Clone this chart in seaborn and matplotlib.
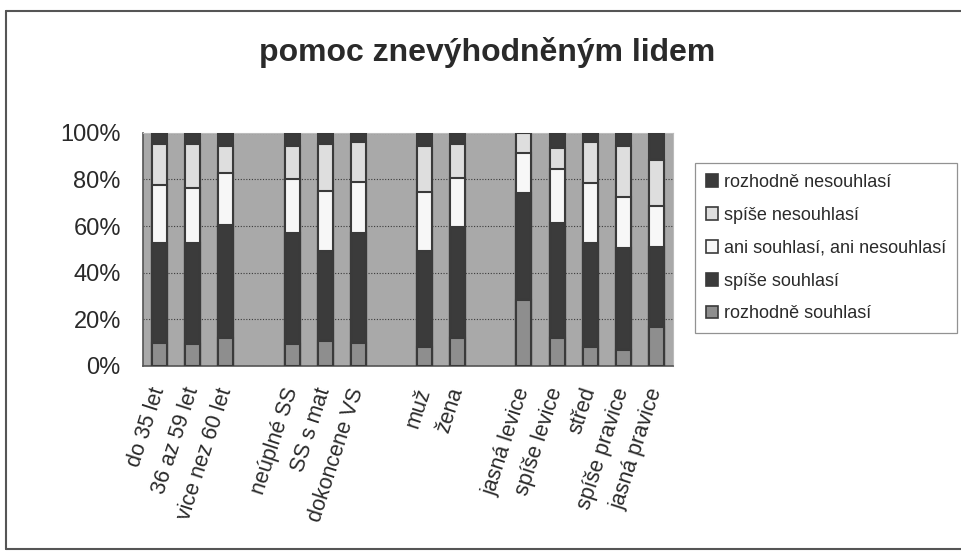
import numpy as np
import pandas as pd
import matplotlib
matplotlib.use("Agg")
import matplotlib.pyplot as plt
from matplotlib.patches import Patch
from matplotlib.lines import Line2D
import seaborn as sns

# categories (spacer slots are blank strings so the groups stand apart)
groups = [
    ["do 35 let", "36 az 59 let", "vice nez 60 let"],
    ["neúplné SS", "SS s mat", "dokoncene VS"],
    ["muž", "žena"],
    ["jasná levice", "spíše levice", "střed", "spíše pravice", "jasná pravice"],
]
categories = [c for g in groups for c in g]

# share of answers in % (bottom to top of each bar)
rozhodne_souhlasi = [10.0, 9.4, 11.9, 9.4, 10.9, 10.0, 8.3, 11.9, 28.3, 11.9, 8.3, 6.9, 16.9]
spise_souhlasi = [42.9, 43.5, 48.5, 47.7, 38.5, 47.1, 41.1, 47.5, 46.0, 49.5, 44.6, 43.5, 34.2]
ani = [24.7, 23.5, 22.2, 22.9, 25.6, 21.8, 25.3, 21.3, 17.1, 22.9, 25.4, 22.2, 17.5]
spise_nesouhlasi = [17.5, 18.7, 11.7, 14.3, 20.1, 17.0, 19.6, 14.4, 8.6, 9.0, 17.6, 21.8, 19.7]
rozhodne_nesouhlasi = [4.9, 4.9, 5.7, 5.7, 4.9, 4.1, 5.7, 4.9, 0.0, 6.7, 4.1, 5.6, 11.7]

series_names = ["rozhodně souhlasí", "spíše souhlasí", "ani souhlasí, ani nesouhlasí",
                "spíše nesouhlasí", "rozhodně nesouhlasí"]
series_values = [rozhodne_souhlasi, spise_souhlasi, ani, spise_nesouhlasi, rozhodne_nesouhlasi]
series_colors = ["#8e8e8e", "#3b3b3b", "#f7f7f7", "#dedede", "#3b3b3b"]

y_ticks = [0, 20, 40, 60, 80, 100]
y_labels = ["0%", "20%", "40%", "60%", "80%", "100%"]

# order with blank spacer slots between groups
order = []
for i, g in enumerate(groups):
    order += g
    if i < len(groups) - 1:
        order.append(" " * (i + 1))

df = pd.DataFrame({"kategorie": categories})
for name, vals in zip(series_names, series_values):
    df[name] = vals
cum = df[series_names].cumsum(axis=1)

sns.set_style("white")
plt.rcParams["font.family"] = ["Liberation Sans", "DejaVu Sans"]
text_col = "#2a2a2a"
edge_col = "#3a3a3a"

fig = plt.figure(figsize=(9.61, 5.51), dpi=100)
ax = fig.add_axes([143 / 961, 1 - 366 / 551, 530 / 961, (366 - 132.7) / 551])
ax.set_facecolor("#a9a9a9")

# stacked bars: draw the cumulative totals from the top series downwards
for name, color in reversed(list(zip(series_names, series_colors))):
    plot_df = pd.DataFrame({"kategorie": df["kategorie"], "hodnota": cum[name]})
    sns.barplot(data=plot_df, x="kategorie", y="hodnota", order=order, color=color,
                saturation=1, width=0.45, edgecolor=edge_col, linewidth=1.5,
                errorbar=None, ax=ax, zorder=3)

ax.set_xlim(-0.5, len(order) - 0.5)
ax.set_ylim(0, 100)
ax.set_xlabel("")
ax.set_ylabel("")
ax.set_yticks(y_ticks)
ax.set_yticklabels(y_labels, fontsize=17, color=text_col)
ax.yaxis.grid(True, linestyle=(0, (1, 1.5)), color="#3a3a3a", linewidth=0.8, zorder=0)
ax.set_axisbelow(True)

ax.set_xticks(range(len(order)))
ax.set_xticklabels([o if o.strip() else "" for o in order], rotation=72, ha="right",
                   va="center", rotation_mode="anchor", fontsize=15.5, color=text_col)
ax.tick_params(axis="x", which="major", length=0, pad=16)
ax.set_xticks(np.arange(-0.5, len(order), 1.0), minor=True)
ax.tick_params(axis="x", which="minor", length=5, width=1, color="#555555", direction="out")
ax.tick_params(axis="y", length=6, width=1, color="#555555", direction="out", pad=10)

for side in ["left", "bottom"]:
    ax.spines[side].set_color("#555555")
    ax.spines[side].set_linewidth(1.2)
for side in ["top", "right"]:
    ax.spines[side].set_color("#bbbbbb")
    ax.spines[side].set_linewidth(0.8)

fig.text(487 / 961, 1 - 52 / 551, "pomoc znevýhodněným lidem", ha="center", va="center",
         fontsize=23, fontweight="bold", color=text_col)

handles = [Patch(facecolor=c, edgecolor=edge_col, linewidth=1.2, label=n)
           for n, c in zip(series_names, series_colors)][::-1]
leg = fig.legend(handles=handles, loc="upper left", bbox_to_anchor=(695 / 961, 1 - 163 / 551),
                 fontsize=13, frameon=True, fancybox=False, handlelength=0.7, handleheight=0.7,
                 handletextpad=0.3, labelspacing=0.88, borderpad=0.6, borderaxespad=0)
leg.get_frame().set_edgecolor("#777777")
leg.get_frame().set_linewidth(0.9)
for t in leg.get_texts():
    t.set_color(text_col)

# outer chart border (left, top, bottom)
for xs, ys in [([6 / 961, 6 / 961], [2 / 551, 1 - 11 / 551]),
               ([6 / 961, 1.0], [1 - 11 / 551, 1 - 11 / 551]),
               ([6 / 961, 1.0], [2 / 551, 2 / 551])]:
    fig.add_artist(Line2D(xs, ys, transform=fig.transFigure, color="#555555", linewidth=1.5))

fig.savefig("out.png", dpi=100)
